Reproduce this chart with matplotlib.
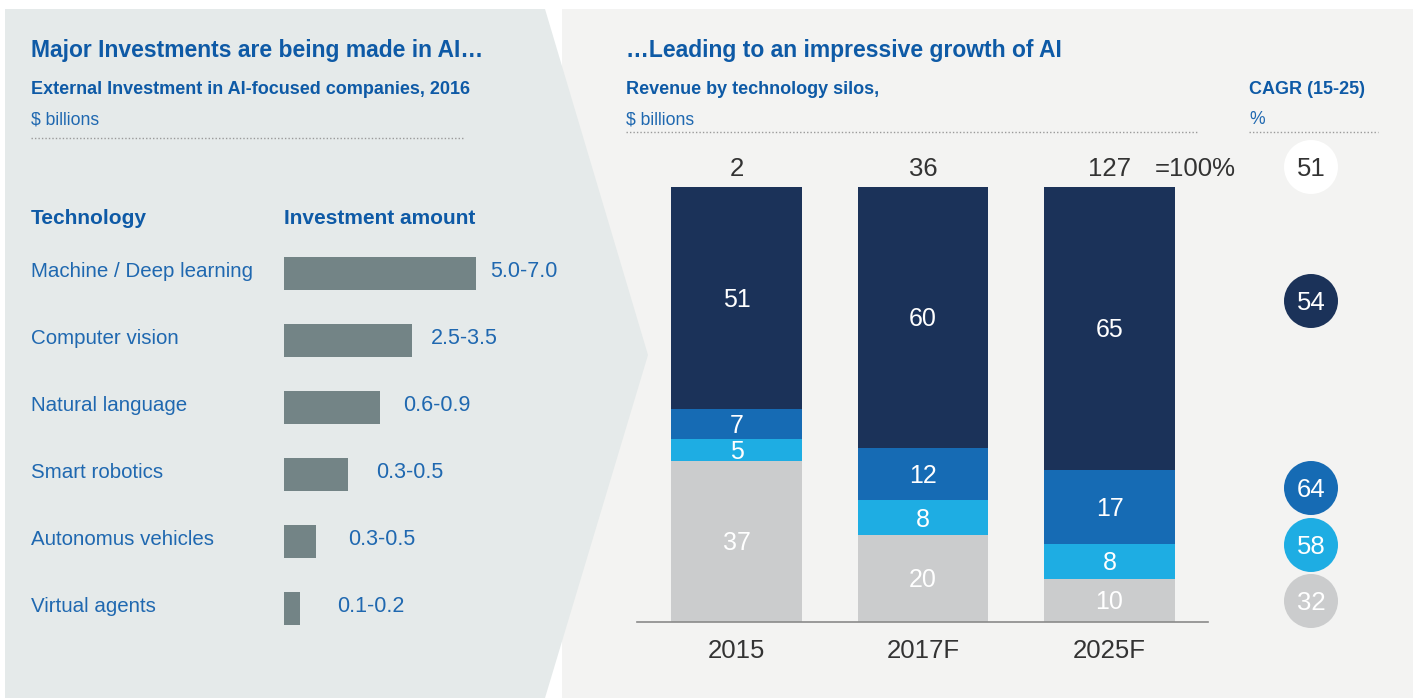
import matplotlib.pyplot as plt
from matplotlib.patches import Polygon, Rectangle, Circle

# ---- data ----
technologies = ["Machine / Deep learning", "Computer vision", "Natural language",
                "Smart robotics", "Autonomus vehicles", "Virtual agents"]
invest_labels = ["5.0-7.0", "2.5-3.5", "0.6-0.9", "0.3-0.5", "0.3-0.5", "0.1-0.2"]
bar_length = [6.0, 4.0, 3.0, 2.0, 1.0, 0.5]  # visual length of the grey bars

years = ["2015", "2017F", "2025F"]
totals = ["2", "36", "127"]
other = [37, 20, 10]
light = [5, 8, 8]
mid = [7, 12, 17]
deep = [51, 60, 65]
cagr = ["51", "54", "64", "58", "32"]

W, H = 1418, 698
BLUE_HEAD = "#0e5aa6"
BLUE_TXT = "#1f68b0"
DARK = "#1b3259"
MID = "#166bb4"
LIGHT = "#1eade3"
GREY = "#cbcccd"
plt.rcParams["font.family"] = ["Liberation Sans", "DejaVu Sans"]

fig = plt.figure(figsize=(W / 100, H / 100), dpi=100)
fig.patch.set_facecolor("white")

bg = fig.add_axes([0, 0, 1, 1])
bg.set_xlim(0, W)
bg.set_ylim(H, 0)
bg.axis("off")
bg.set_zorder(0)

# panels
bg.add_patch(Rectangle((562, 9), 851, H - 9, color="#f3f3f2", lw=0))
bg.add_patch(Polygon([(5, 9), (545, 9), (648, 355), (545, H), (5, H)],
                     closed=True, color="#e5eaea", lw=0))


def px_axes(x0, y0, x1, y1):
    return fig.add_axes([x0 / W, 1 - y1 / H, (x1 - x0) / W, (y1 - y0) / H])


# ---- left header ----
bg.text(31, 50, "Major Investments are being made in AI…", fontsize=16.5,
        fontweight="bold", color=BLUE_HEAD, va="center")
bg.text(31, 89, "External Investment in AI-focused companies, 2016", fontsize=13,
        fontweight="bold", color=BLUE_HEAD, va="center")
bg.text(31, 120, "$ billions", fontsize=12.7, color=BLUE_TXT, va="center")
bg.plot([31, 465], [138, 138], color="#9a9a9a", lw=1, ls=(0, (1, 1.5)))
bg.text(31, 219, "Technology", fontsize=15, fontweight="bold", color=BLUE_HEAD, va="center")
bg.text(284, 219, "Investment amount", fontsize=15, fontweight="bold", color=BLUE_HEAD, va="center")

# ---- left bars ----
axl = px_axes(284, 240, 284 + 8 * 32, 642)
axl.patch.set_alpha(0)
pos = list(range(len(technologies)))
axl.barh(pos, bar_length, height=0.49, color="#738486")
axl.set_xlim(0, 8)
axl.set_ylim(len(technologies) - 0.5, -0.5)
axl.axis("off")
for i, (name, lab, v) in enumerate(zip(technologies, invest_labels, bar_length)):
    axl.text(-253 / 32, i - 0.03, name, fontsize=14.8, color=BLUE_TXT,
             va="center", ha="left")
    axl.text(v + (14 + 4.6 * i) / 32, i - 0.03, lab, fontsize=15.5, color=BLUE_TXT,
             va="center", ha="left")

# ---- right header ----
bg.text(626, 50, "…Leading to an impressive growth of AI", fontsize=16.5,
        fontweight="bold", color=BLUE_HEAD, va="center")
bg.text(626, 89, "Revenue by technology silos,", fontsize=13,
        fontweight="bold", color=BLUE_HEAD, va="center")
bg.text(626, 120, "$ billions", fontsize=12.7, color=BLUE_TXT, va="center")
bg.plot([626, 1197], [132, 132], color="#9a9a9a", lw=1, ls=(0, (1, 1.5)))
bg.text(1249, 89, "CAGR (15-25)", fontsize=13, fontweight="bold", color=BLUE_HEAD, va="center")
bg.text(1249, 120, "%", fontsize=12.7, color=BLUE_TXT, va="center")
bg.plot([1249, 1378], [132, 132], color="#9a9a9a", lw=1, ls=(0, (1, 1.5)))

# ---- stacked bars ----
axr = px_axes(637, 187, 1208, 622)
axr.patch.set_alpha(0)
x = list(range(len(years)))
bottom = [0, 0, 0]
for vals, col in [(other, GREY), (light, LIGHT), (mid, MID), (deep, DARK)]:
    axr.bar(x, vals, bottom=bottom, width=0.70, color=col, lw=0)
    for xi, v, b in zip(x, vals, bottom):
        axr.text(xi, b + v / 2 - 0.45, str(v), ha="center", va="center",
                 fontsize=18, color="white")
    bottom = [b + v for b, v in zip(bottom, vals)]
axr.set_xlim(-0.534, 2.528)
axr.set_ylim(0, 100)
for s in ["top", "right", "left"]:
    axr.spines[s].set_visible(False)
axr.spines["bottom"].set_color("#8a8a8a")
axr.spines["bottom"].set_linewidth(1.2)
axr.set_yticks([])
axr.set_xticks(x)
axr.set_xticklabels(years, fontsize=18.5, color="#333333")
axr.tick_params(axis="x", length=0, pad=12)
for xi, t in zip(x, totals):
    axr.text(xi, 104.2, t, ha="center", va="center", fontsize=18.5, color="#333333")
axr.text(2.24, 104.2, "=100%", ha="left", va="center", fontsize=18.5, color="#333333")

# ---- CAGR circles ----
circle_y = [167, 301, 488, 545, 601]
circle_col = ["white", DARK, MID, LIGHT, GREY]
for yy, c, t in zip(circle_y, circle_col, cagr):
    bg.add_patch(Circle((1311, yy), 27, color=c, lw=0, zorder=3))
    bg.text(1311, yy + 2, t, ha="center", va="center", fontsize=18.5, zorder=4,
            color="#333333" if c == "white" else "white")

fig.savefig("out.png", dpi=100)
